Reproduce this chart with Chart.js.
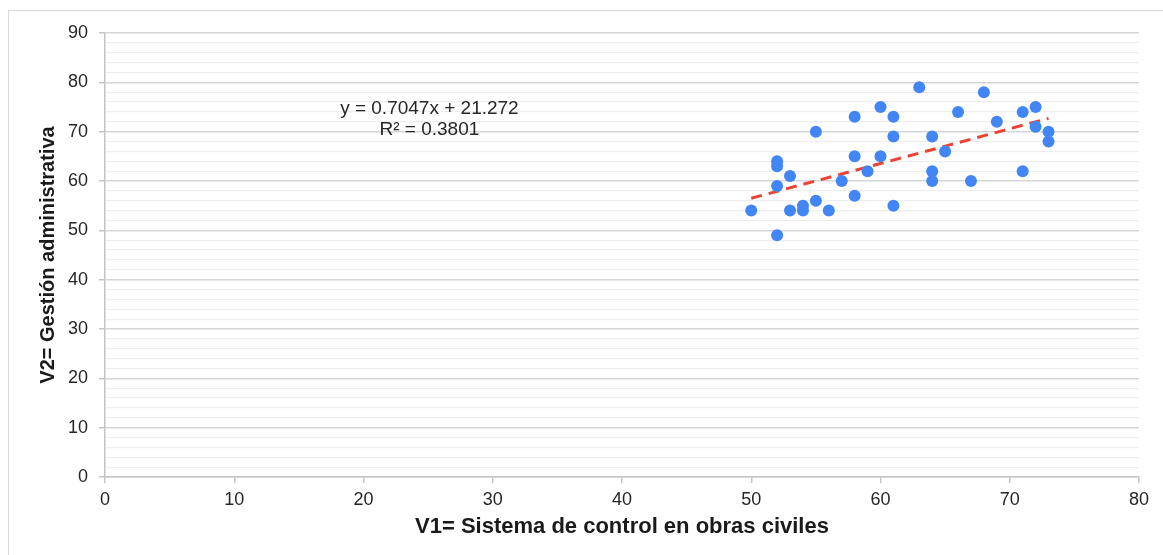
<!DOCTYPE html>
<html lang="es">
  <head>
    <meta charset="UTF-8" />
    <title>V1 vs V2</title>
    <script src="https://cdn.jsdelivr.net/npm/chart.js"></script>
    <style>
      body { margin: 0; background: #fff; }
      #wrap { position: relative; width: 1163px; height: 555px; overflow: hidden; }
      #frame { position: absolute; left: 8px; top: 10px; width: 1200px; height: 600px; border: 1px solid #d9d9d9; }
      #grafico { position: absolute; left: 0; top: 0; }
    </style>
  </head>
  <body>
    <div id="wrap">
      <div id="frame"></div>
      <canvas id="grafico" width="1163" height="555"></canvas>
    </div>

    <script>
      // V1 = Sistema de control, V2 = Gestión administrativa
      const v1 = [50, 52, 52, 52, 52, 53, 53, 54, 54, 55, 55, 56, 57, 58, 58, 58, 59, 60, 60, 61, 61, 61, 63, 64, 64, 64, 65, 66, 67, 68, 69, 71, 71, 72, 72, 73, 73];
      const v2 = [54, 49, 64, 63, 59, 61, 54, 55, 54, 70, 56, 54, 60, 73, 65, 57, 62, 75, 65, 73, 69, 55, 79, 69, 62, 60, 66, 74, 60, 78, 72, 74, 62, 75, 71, 70, 68];

      // línea de tendencia (extremos)
      const trendX = [50, 73];
      const trendY = [56.5, 72.7];

      const eqLines = ['y = 0.7047x + 21.272', 'R² = 0.3801'];
      const eqPos = { x: 25.1, y: [74.7, 70.3] };

      const fuente = "'Liberation Sans', Arial, sans-serif";

      const etiquetaEcuacion = {
        id: 'etiquetaEcuacion',
        afterDatasetsDraw(chart) {
          const ctx = chart.ctx;
          const xs = chart.scales.x, ys = chart.scales.y;
          ctx.save();
          ctx.font = '19px ' + fuente;
          ctx.fillStyle = '#262626';
          ctx.textAlign = 'center';
          ctx.textBaseline = 'middle';
          eqLines.forEach((t, i) => {
            ctx.fillText(t, xs.getPixelForValue(eqPos.x), ys.getPixelForValue(eqPos.y[i]));
          });
          ctx.restore();
        }
      };

      new Chart(document.getElementById('grafico'), {
        type: 'scatter',
        data: {
          datasets: [
            {
              label: 'V2',
              data: v1.map((x, i) => ({ x: x, y: v2[i] })),
              backgroundColor: '#4285f4',
              borderColor: '#4285f4',
              pointRadius: 6,
              pointBorderWidth: 0
            },
            {
              type: 'line',
              label: 'Tendencia',
              data: trendX.map((x, i) => ({ x: x, y: trendY[i] })),
              borderColor: '#ea4335',
              borderWidth: 3,
              borderDash: [11, 7],
              pointRadius: 0,
              fill: false
            }
          ]
        },
        options: {
          responsive: false,
          animation: false,
          layout: { padding: { left: 0, top: 33, right: 24, bottom: 0 } },
          plugins: {
            legend: { display: false },
            tooltip: { enabled: false }
          },
          scales: {
            x: {
              type: 'linear',
              min: 0,
              max: 80,
              ticks: { stepSize: 10, padding: 6, color: '#262626', font: { family: fuente, size: 18 } },
              grid: { drawOnChartArea: false, drawTicks: true, tickLength: 6, tickColor: '#c4c4c4', lineWidth: 1.5 },
              border: { color: '#c4c4c4', width: 1.5 },
              title: {
                display: true,
                text: 'V1= Sistema de control en obras civiles',
                color: '#1a1a1a',
                font: { family: fuente, size: 22, weight: 'bold' },
                padding: { top: 4, bottom: 15 }
              },
              afterFit(scale) { scale.height = 78; }
            },
            y: {
              min: 0,
              max: 90,
              ticks: {
                stepSize: 2,
                autoSkip: false,
                padding: 11,
                color: '#262626',
                font: { family: fuente, size: 18 },
                callback: v => (v % 10 === 0 ? v : '')
              },
              grid: {
                color: c => (c.tick && c.tick.value % 10 === 0 ? '#d6d6d6' : '#eeeeee'),
                lineWidth: c => (c.tick && c.tick.value % 10 === 0 ? 1.5 : 1.2),
                tickColor: c => (c.tick && c.tick.value % 10 === 0 ? '#c4c4c4' : 'rgba(0,0,0,0)'),
                tickLength: 6
              },
              border: { color: '#c4c4c4', width: 1.5 },
              title: {
                display: true,
                text: 'V2= Gestión administrativa',
                color: '#1a1a1a',
                font: { family: fuente, size: 20, weight: 'bold' },
                padding: { top: 36, bottom: 4 }
              },
              afterFit(scale) { scale.width = 105; }
            }
          }
        },
        plugins: [etiquetaEcuacion]
      });
    </script>
  </body>
</html>
